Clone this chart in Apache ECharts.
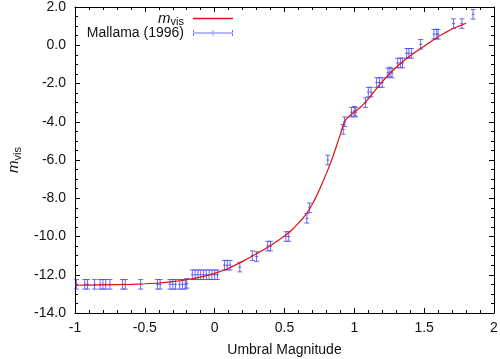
<!DOCTYPE html>
<html>
<head>
<meta charset="utf-8">
<script src="https://cdn.jsdelivr.net/npm/echarts@6/dist/echarts.min.js"></script>
<style>html,body{margin:0;padding:0;background:#fff;}#c{width:500px;height:359px;}</style>
</head>
<body>
<div id="c"></div>
<script>
// Model curve (m_vis)
const curveX = [-1.0, -0.8, -0.6, -0.5, -0.4, -0.3, -0.2, -0.1, 0.0, 0.1, 0.2, 0.3, 0.4, 0.5, 0.55, 0.6, 0.65, 0.7, 0.72, 0.75, 0.8, 0.835, 0.85, 0.9, 0.925, 0.95, 1.0, 1.05, 1.1, 1.15, 1.2, 1.3, 1.4, 1.5, 1.55, 1.6, 1.65, 1.7, 1.75, 1.8];
const curveY = [-12.55, -12.53, -12.5, -12.47, -12.43, -12.36, -12.26, -12.12, -11.93, -11.66, -11.3, -10.9, -10.47, -9.97, -9.67, -9.3, -8.88, -8.3, -8.02, -7.55, -6.7, -6.05, -5.75, -4.65, -4.07, -3.8, -3.5, -3.2, -2.8, -2.35, -1.9, -1.15, -0.55, -0.05, 0.2, 0.45, 0.65, 0.85, 1.0, 1.15];

// Mallama (1996) observations
const obsX = [-0.99, -0.93, -0.91, -0.86, -0.82, -0.80, -0.78, -0.75, -0.66, -0.64, -0.53, -0.41, -0.39, -0.32, -0.30, -0.28, -0.25, -0.23, -0.21, -0.20,
  -0.16, -0.14, -0.12, -0.10, -0.08, -0.06, -0.04, -0.02, 0.00, 0.02,
  0.07, 0.09, 0.11, 0.18, 0.27, 0.30, 0.38, 0.40, 0.51, 0.53, 0.66, 0.68, 0.81, 0.92, 0.93,
  0.98, 1.00, 1.01, 1.08, 1.10, 1.12, 1.16, 1.18, 1.20, 1.24, 1.255, 1.27, 1.31, 1.33, 1.345,
  1.375, 1.39, 1.41, 1.475, 1.57, 1.59, 1.60, 1.71, 1.77, 1.85];
const obsY = [-12.5, -12.5, -12.5, -12.5, -12.5, -12.5, -12.5, -12.5, -12.5, -12.5, -12.5, -12.5, -12.5, -12.5, -12.5, -12.5, -12.5, -12.5, -12.5, -12.45,
  -12.0, -12.0, -12.0, -12.0, -12.0, -12.0, -12.0, -12.0, -12.0, -12.0,
  -11.5, -11.5, -11.5, -11.6, -11.0, -11.05, -10.5, -10.5, -10.0, -10.0, -9.05, -8.5, -6.0, -4.4, -4.0,
  -3.5, -3.45, -3.5, -3.0, -2.45, -2.45, -1.95, -1.95, -1.95, -1.45, -1.4, -1.45, -0.93, -0.92, -0.93,
  -0.42, -0.42, -0.42, 0.05, 0.58, 0.58, 0.58, 1.13, 1.13, 1.62];
const OBS_ERR = 0.25;

const xTickValues = [-1, -0.5, 0, 0.5, 1, 1.5, 2];
const xTickLabels = ['-1', '-0.5', '0', '0.5', '1', '1.5', '2'];
const yTickValues = [-14, -12, -10, -8, -6, -4, -2, 0, 2];
const yTickLabels = ['-14.0', '-12.0', '-10.0', '-8.0', '-6.0', '-4.0', '-2.0', '0.0', '2.0'];

const FONT = '"Liberation Sans", Arial, sans-serif';
const RED = '#e01010';
const BLUE = 'rgba(70,70,235,0.8)';

function lookup(vals, labels, v) {
  for (let i = 0; i < vals.length; i++) if (Math.abs(vals[i] - v) < 1e-9) return labels[i];
  return '';
}

const richM = {
  i: { fontStyle: 'italic', fontSize: 15, fontFamily: FONT, color: '#111' },
  s: { fontSize: 11, fontFamily: FONT, color: '#111', padding: [7, 0, 0, 0] }
};

const axisCommon = {
  axisLine: { show: true, onZero: false, lineStyle: { color: '#000', width: 1 } },
  axisTick: { show: true, inside: true, length: 5, lineStyle: { color: '#000' } },
  minorTick: { show: true, length: 3, lineStyle: { color: '#000' } },
  splitLine: { show: false },
  minorSplitLine: { show: false }
};

const chart = echarts.init(document.getElementById('c'), null, { renderer: 'canvas' });
chart.setOption({
  animation: false,
  backgroundColor: '#fff',
  textStyle: { fontFamily: FONT },
  grid: { left: 75, right: 6, top: 7, bottom: 46, containLabel: false, outerBoundsMode: 'none' },
  legend: [
    {
      data: [{ name: 'mvis', icon: 'rect' }],
      right: 262, top: 6, orient: 'vertical', align: 'right',
      itemWidth: 40, itemHeight: 1.5,
      formatter: () => '{i|m}{s|vis}',
      textStyle: { rich: richM, padding: [0, 4, 0, 0] }
    },
    {
      data: [{ name: 'Mallama (1996)', icon: 'path://M0,4.5h40v1h-40z M0,2v6h1v-6z M19.5,2.5v5h1v-5z M39,2v6h1v-6z' }],
      right: 262, top: 21, orient: 'vertical', align: 'right',
      itemWidth: 40, itemHeight: 8,
      textStyle: { fontSize: 14, color: '#111', fontFamily: FONT, padding: [0, 4, 0, 0] }
    }
  ],
  xAxis: [
    Object.assign({}, axisCommon, {
      type: 'value', position: 'bottom', min: -1, max: 2, interval: 0.5,
      minorTick: Object.assign({}, axisCommon.minorTick, { splitNumber: 5 }),
      axisLabel: { color: '#111', fontSize: 14, margin: 8, fontFamily: FONT, formatter: v => lookup(xTickValues, xTickLabels, v) },
      name: 'Umbral Magnitude', nameLocation: 'middle', nameGap: 30,
      nameTextStyle: { fontSize: 14, color: '#111', fontFamily: FONT }
    }),
    Object.assign({}, axisCommon, {
      type: 'value', position: 'top', min: -1, max: 2, interval: 0.5,
      minorTick: Object.assign({}, axisCommon.minorTick, { splitNumber: 5 }),
      axisLabel: { show: false }
    })
  ],
  yAxis: [
    Object.assign({}, axisCommon, {
      type: 'value', position: 'left', min: -14, max: 2, interval: 2,
      minorTick: Object.assign({}, axisCommon.minorTick, { splitNumber: 4 }),
      axisLabel: { color: '#111', fontSize: 14, margin: 9, fontFamily: FONT, formatter: v => lookup(yTickValues, yTickLabels, v) },
      name: '{i|m}{s|vis}', nameLocation: 'middle', nameGap: 50, nameRotate: 90,
      nameTextStyle: { rich: richM }
    }),
    Object.assign({}, axisCommon, {
      type: 'value', position: 'right', min: -14, max: 2, interval: 2,
      minorTick: Object.assign({}, axisCommon.minorTick, { splitNumber: 4 }),
      axisLabel: { show: false }
    })
  ],
  series: [
    {
      name: 'mvis', type: 'line', xAxisIndex: 0, yAxisIndex: 0,
      data: curveX.map((x, i) => [x, curveY[i]]),
      showSymbol: false, smooth: 0.2,
      lineStyle: { color: RED, width: 1.2 }, itemStyle: { color: RED },
      z: 3
    },
    {
      name: 'Mallama (1996)', type: 'custom', xAxisIndex: 0, yAxisIndex: 0,
      itemStyle: { color: BLUE },
      data: obsX.map((x, i) => [x, obsY[i], OBS_ERR]),
      renderItem: function (params, api) {
        const x = api.value(0), y = api.value(1), e = api.value(2);
        const t = api.coord([x, y + e]), b = api.coord([x, y - e]), c = api.coord([x, y]);
        const w = 2.5;
        const st = { stroke: BLUE, lineWidth: 1 };
        return {
          type: 'group',
          children: [
            { type: 'line', shape: { x1: t[0], y1: t[1], x2: b[0], y2: b[1] }, style: st },
            { type: 'line', shape: { x1: t[0] - w, y1: t[1], x2: t[0] + w, y2: t[1] }, style: st },
            { type: 'line', shape: { x1: b[0] - w, y1: b[1], x2: b[0] + w, y2: b[1] }, style: st },
            { type: 'line', shape: { x1: c[0] - 1.5, y1: c[1], x2: c[0] + 1.5, y2: c[1] }, style: st }
          ]
        };
      },
      z: 2
    }
  ]
});
</script>
</body>
</html>
